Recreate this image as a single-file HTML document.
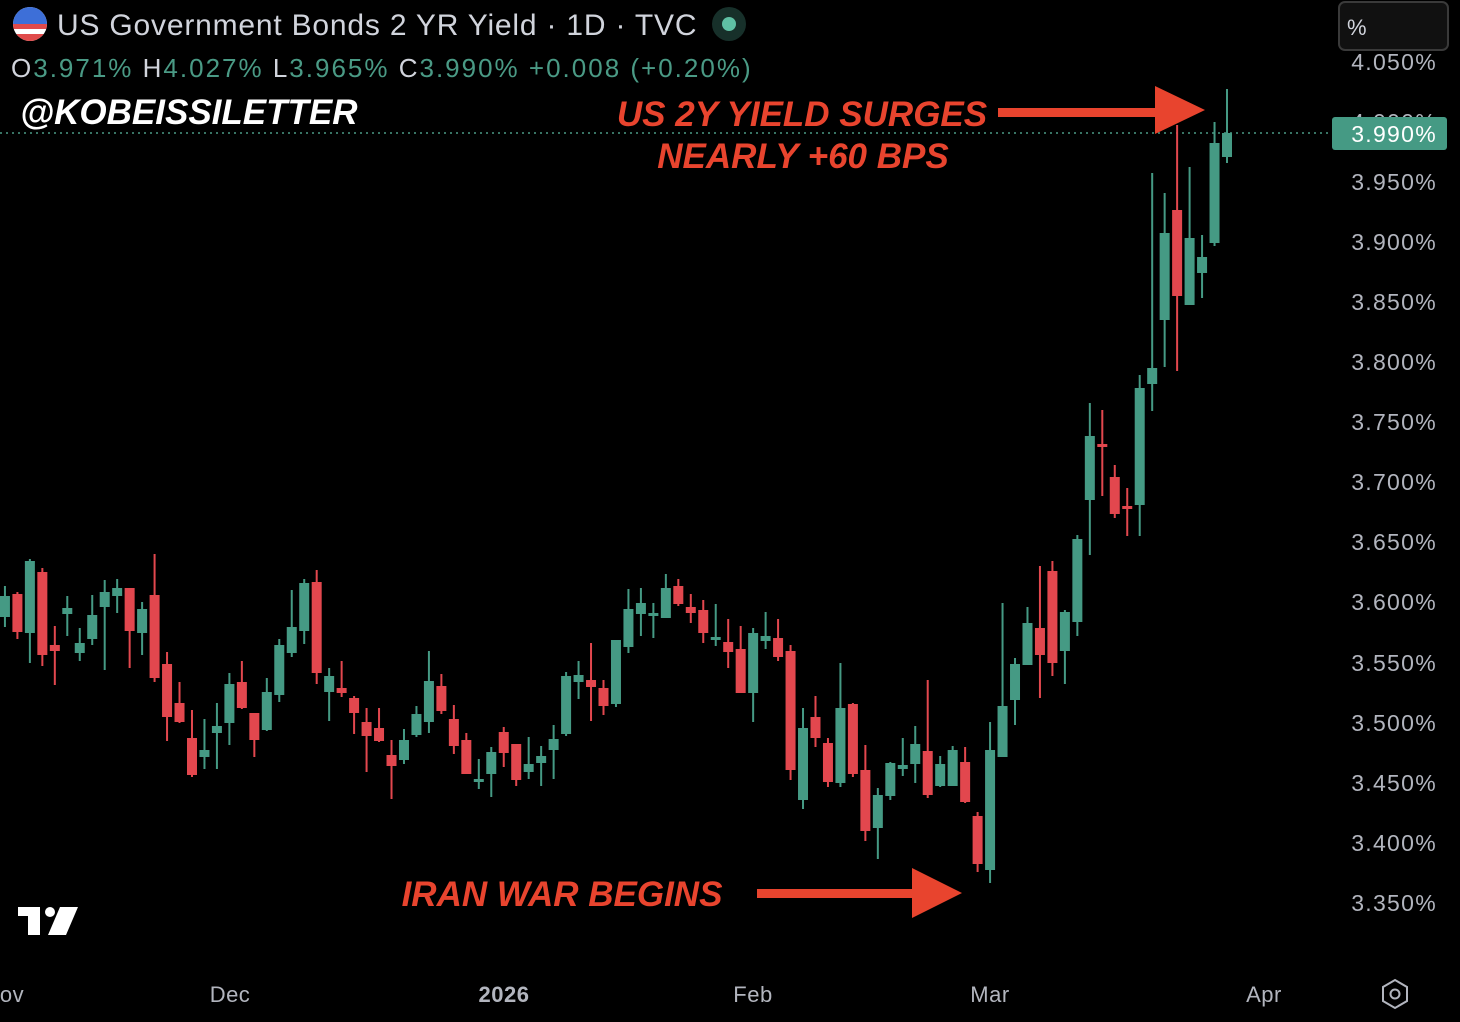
<!DOCTYPE html>
<html><head><meta charset="utf-8">
<style>
html,body{margin:0;padding:0;background:#000;width:1460px;height:1022px;overflow:hidden}
svg{display:block}
</style></head>
<body>
<svg id="c" width="1460" height="1022" xmlns="http://www.w3.org/2000/svg" font-family="Liberation Sans, sans-serif">
<rect width="1460" height="1022" fill="#000"/>
<line x1="0" y1="133" x2="1330" y2="133" stroke="#4a9a85" stroke-width="1.5" stroke-dasharray="2,4"/>
<g id="candles"></g>
<g fill="#b2b5be" font-size="23" text-anchor="end" letter-spacing="1.3">
<text x="1437" y="70">4.050%</text>
<text x="1437" y="130">4.000%</text>
<text x="1437" y="190">3.950%</text>
<text x="1437" y="250">3.900%</text>
<text x="1437" y="310">3.850%</text>
<text x="1437" y="370">3.800%</text>
<text x="1437" y="430">3.750%</text>
<text x="1437" y="490">3.700%</text>
<text x="1437" y="550">3.650%</text>
<text x="1437" y="610">3.600%</text>
<text x="1437" y="671">3.550%</text>
<text x="1437" y="731">3.500%</text>
<text x="1437" y="791">3.450%</text>
<text x="1437" y="851">3.400%</text>
<text x="1437" y="911">3.350%</text>
</g>
<rect x="1339" y="2" width="109" height="48" rx="6" fill="#111" stroke="#3a3a3a" stroke-width="2"/>
<text x="1347" y="35" fill="#d1d4dc" font-size="22">%</text>
<rect x="1332" y="117" width="115" height="33" rx="3" fill="#459a84"/>
<text x="1437" y="142" fill="#fff" font-size="23" text-anchor="end" letter-spacing="1.3">3.990%</text>
<g fill="#b2b5be" font-size="22" text-anchor="middle" letter-spacing="0.5">
<text x="12" y="1002">ov</text>
<text x="230" y="1002">Dec</text>
<text x="504" y="1002" font-weight="bold">2026</text>
<text x="753" y="1002">Feb</text>
<text x="990" y="1002">Mar</text>
<text x="1264" y="1002">Apr</text>
</g>
<polygon points="1395,980 1407,987 1407,1001 1395,1008 1383,1001 1383,987" fill="none" stroke="#b2b5be" stroke-width="2"/>
<circle cx="1395" cy="994" r="4.5" fill="none" stroke="#b2b5be" stroke-width="2"/>
<clipPath id="fc"><circle cx="30" cy="24" r="17"/></clipPath>
<g clip-path="url(#fc)">
<rect x="13" y="7" width="34" height="34" fill="#fff"/>
<rect x="13" y="24" width="34" height="5" fill="#e04a4a"/>
<rect x="13" y="34" width="34" height="8" fill="#e04a4a"/>
<rect x="13" y="7" width="34" height="17" fill="#3d6fd8"/>
</g>
<text x="57" y="35" fill="#d1d4dc" font-size="30" letter-spacing="0.8">US Government Bonds 2 YR Yield · 1D · TVC</text>
<circle cx="729" cy="24" r="17" fill="#17302a"/>
<circle cx="729" cy="24" r="7" fill="#5fc0a4"/>
<text x="11" y="77" font-size="26" fill="#d1d4dc" letter-spacing="2">O<tspan fill="#4a9a85">3.971%</tspan> H<tspan fill="#4a9a85">4.027%</tspan> L<tspan fill="#4a9a85">3.965%</tspan> C<tspan fill="#4a9a85">3.990%</tspan> <tspan fill="#4a9a85">+0.008 (+0.20%)</tspan></text>
<text x="20" y="124" fill="#fff" font-size="35" font-weight="bold" font-style="italic">@KOBEISSILETTER</text>
<g fill="#e8442e" font-size="35" font-weight="bold" font-style="italic" text-anchor="middle">
<text x="802" y="126">US 2Y YIELD SURGES</text>
<text x="803" y="168">NEARLY +60 BPS</text>
<text x="562" y="906">IRAN WAR BEGINS</text>
</g>
<rect x="998" y="108" width="160" height="9" fill="#e8442e"/>
<polygon points="1155,86 1205,110 1155,134" fill="#e8442e"/>
<rect x="757" y="889" width="158" height="9" fill="#e8442e"/>
<polygon points="912,868 962,893 912,918" fill="#e8442e"/>
<g fill="#fff">
<rect x="18" y="907" width="22" height="9"/>
<rect x="28" y="907" width="12" height="28"/>
<circle cx="50" cy="912" r="5"/>
<polygon points="60,907 78,907 66,935 48,935"/>
</g>
</svg>
<script>
var d=[
['g',586,596,617,627],['r',592,594,632,639],['g',559,561,633,663],['r',568,572,655,666],['r',626,645,651,685],
['g',596,608,614,636],['g',628,643,653,661],['g',595,615,639,645],['g',580,592,607,670],['g',579,588,596,613],
['r',588,588,631,668],['g',602,609,633,655],['r',554,595,678,682],['r',652,664,717,741],['r',682,703,722,723],
['r',710,738,775,777],['g',719,750,757,769],['g',703,726,733,769],['g',673,684,723,745],['r',661,682,708,709],
['r',713,713,740,757],['g',678,692,730,731],['g',639,645,695,702],['g',590,627,653,657],['g',579,583,631,644],
['r',570,582,673,684],['g',668,676,692,721],['r',661,688,693,697],['r',696,698,713,734],['r',708,722,736,772],
['r',708,728,741,742],['r',740,755,766,799],['g',729,740,760,764],['g',706,714,735,737],['g',651,681,722,733],
['r',674,686,711,714],['r',705,719,746,754],['r',733,740,774,774],['g',759,779,781,789],['g',747,752,774,797],
['r',727,732,753,767],['r',744,744,780,786],['g',737,764,772,779],['g',746,756,763,786],['g',725,739,750,779],
['g',672,676,734,736],['g',661,675,682,699],['r',643,680,687,721],['r',680,688,706,715],['g',640,640,704,707],
['g',589,609,647,653],['g',588,603,614,636],['g',603,613,615,638],['g',574,588,618,618],['r',579,586,604,606],
['r',594,607,613,623],['r',600,610,633,643],['g',604,637,639,646],['r',619,642,652,668],['r',626,649,693,693],
['g',628,633,693,722],['g',612,636,641,649],['r',619,638,657,661],['r',645,651,770,780],['g',708,728,800,809],
['r',696,717,738,747],['r',738,743,782,787],['g',663,708,783,787],['r',703,704,774,777],['r',745,770,831,841],
['g',788,795,828,859],['g',762,763,796,800],['g',738,765,769,776],['g',726,744,764,783],['r',680,751,795,798],
['g',756,764,786,787],['g',746,750,786,786],['r',747,762,802,803],['r',812,816,864,872],['g',722,750,870,883],
['g',603,706,757,757],['g',658,664,700,725],['g',607,623,665,665],['r',566,628,655,698],['r',561,571,663,676],
['g',610,612,651,684],['g',535,539,622,636],['g',403,436,500,555],['r',410,444,447,496],['r',465,477,514,518],
['r',488,506,509,536],['g',375,388,505,536],['g',173,368,384,411],['g',193,233,320,367],['r',125,210,296,371],
['g',167,238,305,305],['g',235,257,273,298],['g',122,143,243,246],['g',89,133,157,163]];
var s='',n=d.length;
for(var i=0;i<n;i++){var c=d[i],x=1227-12.47*(n-1-i),col=c[0]=='g'?'#459a84':'#e2474e';
var bh=Math.max(c[3]-c[2],3);
s+='<rect x="'+(x-1)+'" y="'+c[1]+'" width="2" height="'+(c[4]-c[1])+'" fill="'+col+'"/>';
s+='<rect x="'+(x-5)+'" y="'+c[2]+'" width="10" height="'+bh+'" fill="'+col+'"/>';}
document.getElementById('candles').innerHTML=s;
</script>
</body></html>
